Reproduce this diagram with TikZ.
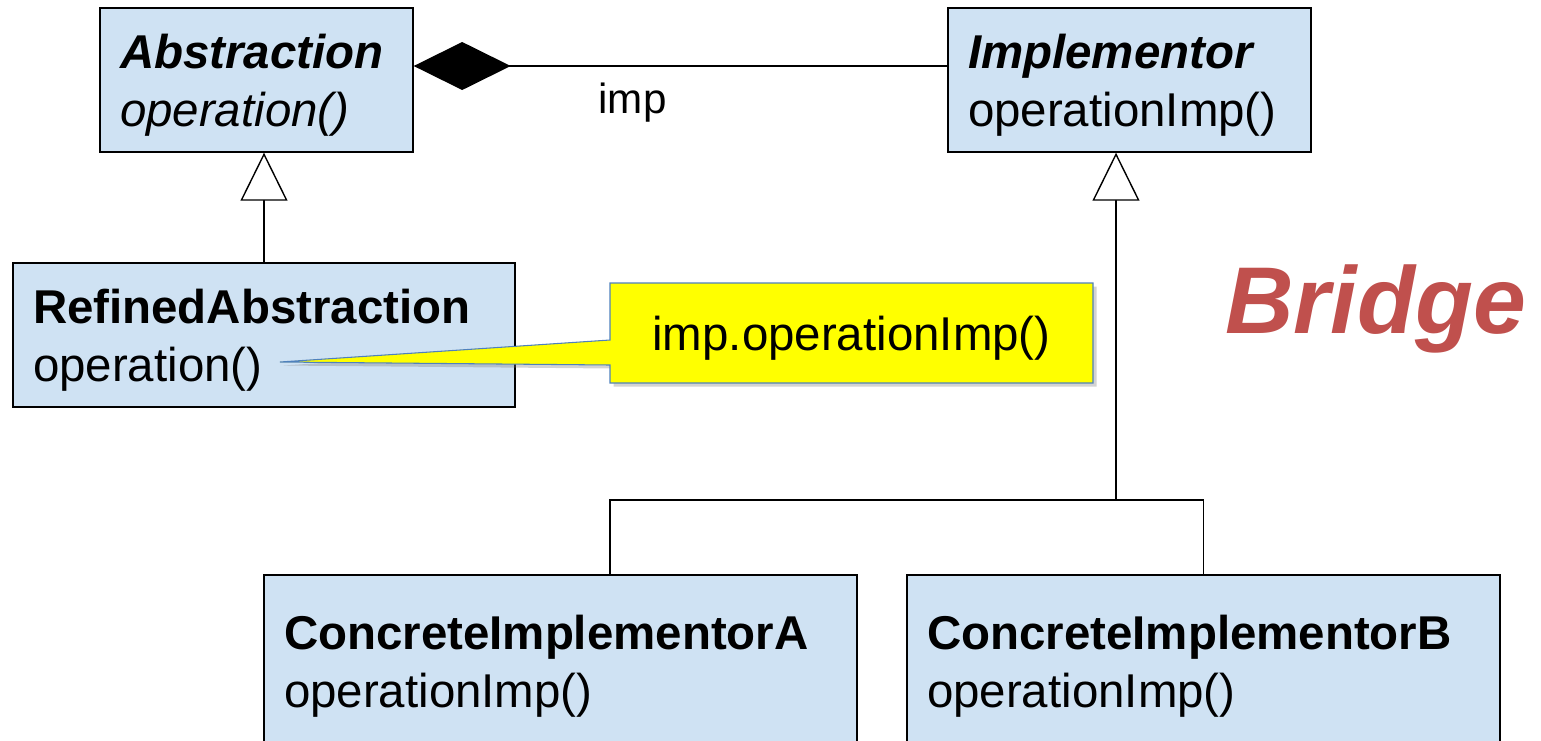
\documentclass[tikz,border=0pt]{standalone}
\usepackage{fontspec}
\setmainfont{Liberation Sans}
\usetikzlibrary{arrows.meta,shadows}
\definecolor{classblue}{RGB}{207,226,243}
\definecolor{noteyellow}{RGB}{255,255,0}
\definecolor{noteborder}{RGB}{79,129,189}
\definecolor{bridgered}{RGB}{192,80,77}
\tikzset{
    umlclass/.style={draw, line width=0.8pt, fill=classblue, align=left,
        inner xsep=0.4cm, text width=#1, minimum height=2.88cm, text depth=33pt,
        font=\fontsize{27}{33}\selectfont},
    inherit/.style={line width=0.8pt, -{Triangle[open, fill=white, length=0.96cm, width=0.94cm]}},
    composition/.style={line width=0.8pt, {Diamond[length=1.94cm, width=0.96cm]}-},
    notebox/.style={draw=noteborder, line width=0.6pt, fill=noteyellow,
        drop shadow={shadow xshift=2pt, shadow yshift=-2pt, opacity=0.35}},
    notetext/.style={text depth=0pt, font=\fontsize{27}{33}\selectfont},
    rolelabel/.style={font=\fontsize{24}{28}\selectfont},
    patternname/.style={text=bridgered, font=\fontsize{54}{60}\selectfont\bfseries\itshape}
}
\begin{document}
\begin{tikzpicture}
    \useasboundingbox (0,0) rectangle (30.82,-14.8);
    \node[umlclass=5.46cm] (abstraction) at (5.13,-1.6) {\textbf{\textit{Abstraction}}\\\textit{operation()}};
    \node[umlclass=6.46cm] (implementor) at (22.59,-1.6) {\textbf{\textit{Implementor}}\\operationImp()};
    \node[umlclass=9.24cm] (refined) at (5.28,-6.7) {\textbf{RefinedAbstraction}\\operation()};
    \node[umlclass=11.06cm, minimum height=3.44cm] (concreteA) at (11.21,-13.22) {\textbf{ConcreteImplementorA}\\operationImp()};
    \node[umlclass=11.06cm, minimum height=3.44cm] (concreteB) at (24.07,-13.22) {\textbf{ConcreteImplementorB}\\operationImp()};
    \coordinate (join) at (22.32,-10.0);
    \coordinate (tip) at (5.6,-7.24);
    \draw[composition] ([yshift=0.28cm]abstraction.east) -- node[rolelabel, pos=0.41, yshift=-0.74cm] (imp) {imp} ([yshift=0.28cm]implementor.west);
    \draw[inherit] (refined.north) -- (refined.north |- abstraction.south);
    \draw[line width=0.8pt] ([xshift=0.99cm]concreteA.north) |- (join) -| (concreteB.north);
    \draw[inherit] (join) -- (join |- implementor.south);
    \draw[notebox] (12.2,-5.66) -| (21.86,-7.66) -| (12.2,-7.3) -- (tip) -- (12.2,-6.8) -- cycle;
    \node[notetext] (note) at (17.03,-6.66) {imp.operationImp()};
    \node[patternname, anchor=base] (bridge) at (27.51,-6.66) {Bridge};
\end{tikzpicture}
\end{document}
